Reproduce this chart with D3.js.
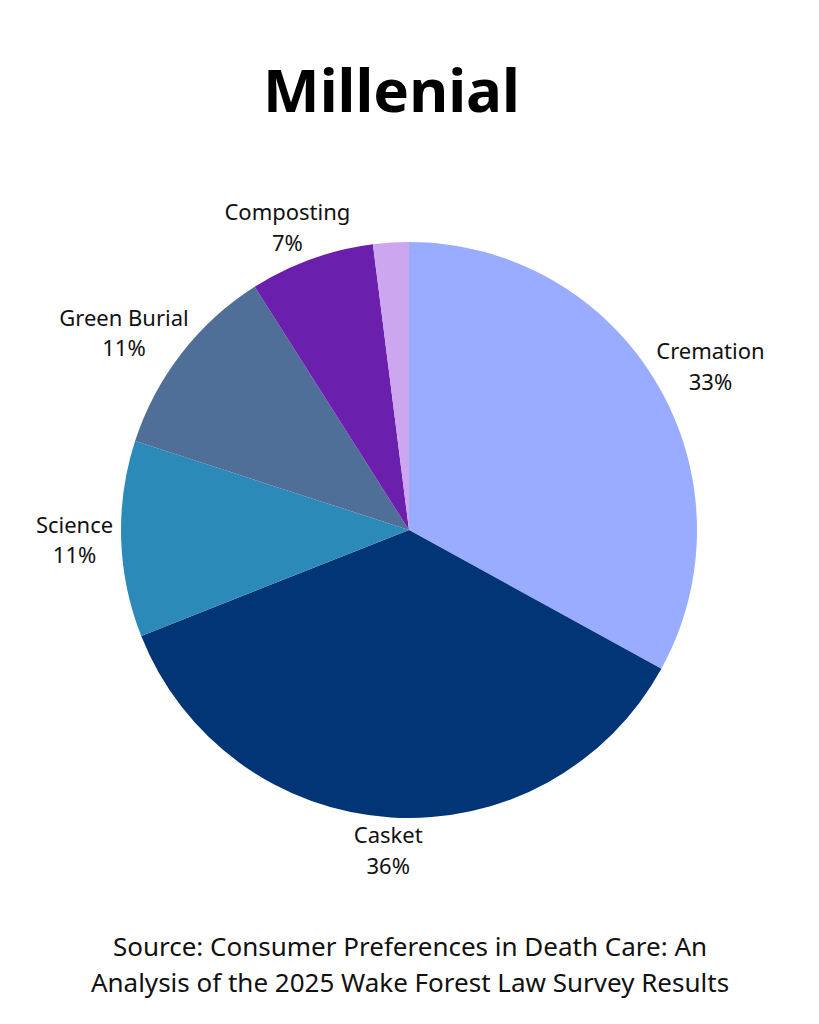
<!DOCTYPE html>
<html>
<head>
<meta charset="utf-8">
<script src="https://cdn.jsdelivr.net/npm/d3@7"></script>
<style>
  html, body { margin: 0; padding: 0; background: #ffffff; }
  svg { display: block; }
</style>
</head>
<body>
<svg id="chart" width="819" height="1024"></svg>
<script>
const categories = ["Cremation", "Casket", "Science", "Green Burial", "Composting", "Other"];
const values = [33, 36, 11, 11, 7, 2];
const showLabel = [true, true, true, true, true, false];
const colors = ["#9AACFF", "#023576", "#2C8AB8", "#4F6E98", "#6A1FAD", "#CCA6EE"];
const title = "Millenial";
const sourceLines = ["Source: Consumer Preferences in Death Care: An", "Analysis of the 2025 Wake Forest Law Survey Results"];

const svg = d3.select("#chart");
const W = 819, H = 1024;
const cx = 409, cy = 530, R = 288, gap = 8;
const font = "'Noto Sans', 'Open Sans', sans-serif";

svg.append("text")
  .attr("x", W / 2 - 18).attr("y", 112)
  .attr("text-anchor", "middle")
  .attr("font-family", font)
  .attr("font-weight", 700)
  .attr("font-size", 60)
  .attr("fill", "#000")
  .text(title);

const data = categories.map((c, i) => ({ name: c, value: values[i], color: colors[i], show: showLabel[i] }));
const pie = d3.pie().value(d => d.value).sort(null);
const arcs = pie(data);
const arc = d3.arc().innerRadius(0).outerRadius(R);
const edgeArc = d3.arc().innerRadius(R + gap).outerRadius(R + gap);

const g = svg.append("g").attr("transform", `translate(${cx},${cy})`);
g.selectAll("path").data(arcs).enter().append("path")
  .attr("d", arc)
  .attr("fill", d => d.data.color);

const total = d3.sum(values);
const fs = 22, lineH = 30.5;
const lbl = g.selectAll("text.lbl").data(arcs.filter(d => d.data.show)).enter().append("text")
  .attr("class", "lbl")
  .attr("text-anchor", "middle")
  .attr("font-family", font)
  .attr("font-size", fs)
  .attr("fill", "#111");
lbl.append("tspan")
  .attr("x", 0)
  .attr("y", -lineH / 2 + 8)
  .text(d => d.data.name);
lbl.append("tspan")
  .attr("x", 0)
  .attr("y", lineH / 2 + 8)
  .text(d => Math.round(d.data.value / total * 100) + "%");
lbl.each(function(d) {
  const bb = this.getBBox();
  const a = (d.startAngle + d.endAngle) / 2;
  const [px, py] = edgeArc.centroid(d);
  const w = bb.width, h = lineH + 20;
  const x = px + Math.sin(a) * w / 2;
  const y = py - Math.cos(a) * h / 2;
  d3.select(this).attr("transform", `translate(${x},${y})`);
});

svg.selectAll("text.src").data(sourceLines).enter().append("text")
  .attr("class", "src")
  .attr("x", 410)
  .attr("y", (d, i) => 956 + i * 36)
  .attr("text-anchor", "middle")
  .attr("font-family", font)
  .attr("font-size", 26)
  .attr("fill", "#111")
  .text(d => d);
</script>
</body>
</html>
